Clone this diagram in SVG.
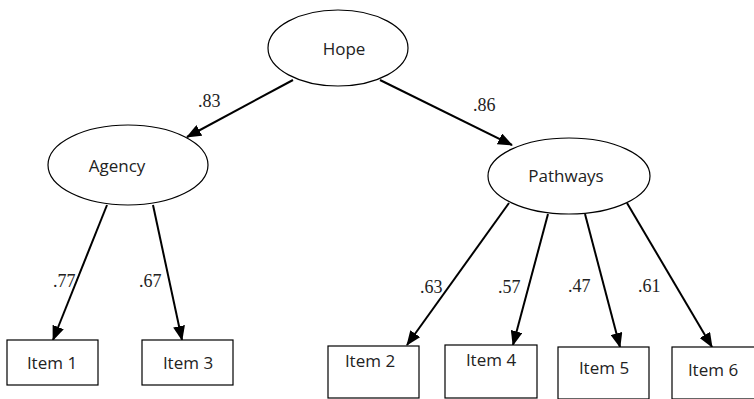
<svg xmlns="http://www.w3.org/2000/svg" width="754" height="399" viewBox="0 0 754 399">
<style>
.node ellipse, .node rect { fill: #fff; stroke: #000; stroke-width: 1.2; }
.lbl { font-family: "Open Sans", "Liberation Sans", sans-serif; font-size: 17px; fill: #222; text-anchor: middle; }
.coef { font-family: "Liberation Serif", "Times New Roman", serif; font-size: 18px; fill: #222; }
.edge { stroke: #000; stroke-width: 2; fill: none; marker-end: url(#ah); }
</style>
<defs>
<marker id="ah" markerUnits="userSpaceOnUse" markerWidth="16" markerHeight="12" refX="14" refY="6" orient="auto">
<path d="M0,0 L15,6 L0,12 Z" fill="#000"/>
</marker>
</defs>
<rect width="754" height="399" fill="#fff"/>
<g id="connectors">
<line class="edge" x1="293" y1="80" x2="187" y2="137"/>
<line class="edge" x1="380" y1="80" x2="512" y2="145"/>
<line class="edge" x1="107" y1="205" x2="53" y2="340"/>
<line class="edge" x1="153" y1="205" x2="182" y2="340"/>
<line class="edge" x1="509" y1="203" x2="407" y2="345"/>
<line class="edge" x1="548" y1="214" x2="513" y2="345"/>
<line class="edge" x1="585" y1="214" x2="620" y2="347"/>
<line class="edge" x1="627" y1="203" x2="712" y2="347"/>
</g>
<g id="node-hope" class="node"><ellipse cx="338" cy="48" rx="70" ry="38"/><text class="lbl" x="344" y="55">Hope</text></g>
<g id="node-agency" class="node"><ellipse cx="128" cy="165" rx="80" ry="40"/><text class="lbl" x="117" y="172">Agency</text></g>
<g id="node-pathways" class="node"><ellipse cx="569" cy="176" rx="81" ry="38"/><text class="lbl" x="566" y="182">Pathways</text></g>
<g id="node-item1" class="node"><rect x="7" y="340" width="91" height="45"/><text class="lbl" x="52" y="369">Item 1</text></g>
<g id="node-item3" class="node"><rect x="142" y="340" width="91" height="45"/><text class="lbl" x="188" y="369">Item 3</text></g>
<g id="node-item2" class="node"><rect x="328" y="346" width="91" height="52"/><text class="lbl" x="370" y="367">Item 2</text></g>
<g id="node-item4" class="node"><rect x="445" y="345" width="92" height="53"/><text class="lbl" x="491" y="366">Item 4</text></g>
<g id="node-item5" class="node"><rect x="558" y="347" width="91" height="52"/><text class="lbl" x="604" y="374">Item 5</text></g>
<g id="node-item6" class="node"><rect x="672" y="347" width="90" height="52"/><text class="lbl" x="713" y="376">Item 6</text></g>
<g id="coefficients">
<text class="coef" x="198" y="107">.83</text>
<text class="coef" x="473" y="111">.86</text>
<text class="coef" x="53" y="287">.77</text>
<text class="coef" x="139" y="287">.67</text>
<text class="coef" x="420" y="293">.63</text>
<text class="coef" x="498" y="293">.57</text>
<text class="coef" x="568" y="292">.47</text>
<text class="coef" x="638" y="292">.61</text>
</g>
</svg>
